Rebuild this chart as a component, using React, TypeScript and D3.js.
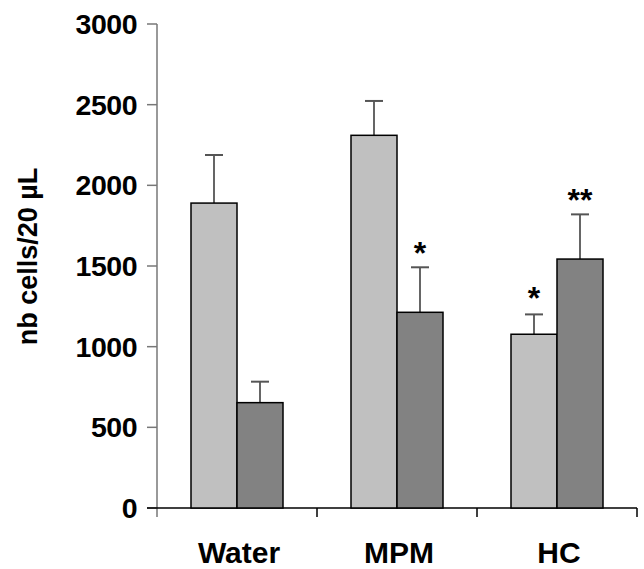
import React from "react";
import * as d3 from "d3";

const categories = ["Water", "MPM", "HC"];
const seriesA = [1890, 2310, 1077];
const seriesB = [653, 1213, 1543];
const errA = [298, 213, 123];
const errB = [130, 279, 277];
const starsA = ["", "", "*"];
const starsB = ["", "*", "**"];
const yTicks = [0, 500, 1000, 1500, 2000, 2500, 3000];

export default function App() {
  const W = 644, H = 569;
  const x0 = 157, x1 = 637, yTop = 24, yBot = 508;
  const y = d3.scaleLinear().domain([0, 3000]).range([yBot, yTop]);
  const x = d3.scaleBand().domain(categories).range([x0, x1]).paddingInner(0).paddingOuter(0);
  const bw = 46;
  const font = "'Liberation Sans', Arial, sans-serif";
  const fillA = "#c0c0c0", fillB = "#828282";
  const errColor = "#555";
  const starFs = 32;
  return (
    <svg width={W} height={H} style={{ position: "absolute", left: 0, top: 0, background: "#fff" }}>
      {/* y axis */}
      <line x1={x0} x2={x0} y1={yTop} y2={yBot + 9} stroke="#777" strokeWidth={1.5} />
      {yTicks.map((t) => (
        <g key={t}>
          <line x1={x0 - 10} x2={x0} y1={y(t)} y2={y(t)} stroke="#777" strokeWidth={1.5} />
          <text x={137} y={y(t) + 10} textAnchor="end" fontFamily={font} fontWeight="bold" fontSize={28.5} letterSpacing={-0.5}>{t}</text>
        </g>
      ))}
      {/* x axis */}
      <line x1={x0 - 10} x2={x1} y1={yBot} y2={yBot} stroke="#000" strokeWidth={1.5} />
      {categories.map((c) => (
        <line key={c} x1={(x(c) as number) + x.bandwidth()} x2={(x(c) as number) + x.bandwidth()} y1={yBot} y2={yBot + 9} stroke="#000" strokeWidth={1.5} />
      ))}
      {categories.map((c, i) => {
        const cx = (x(c) as number) + x.bandwidth() / 2;
        const ax = cx - bw, bx = cx;
        return (
          <g key={c}>
            {/* error bars */}
            <line x1={ax + bw / 2} x2={ax + bw / 2} y1={y(seriesA[i])} y2={y(seriesA[i] + errA[i])} stroke={errColor} strokeWidth={1.8} />
            <line x1={ax + bw / 2 - 9} x2={ax + bw / 2 + 9} y1={y(seriesA[i] + errA[i])} y2={y(seriesA[i] + errA[i])} stroke={errColor} strokeWidth={2} />
            <line x1={bx + bw / 2} x2={bx + bw / 2} y1={y(seriesB[i])} y2={y(seriesB[i] + errB[i])} stroke={errColor} strokeWidth={1.8} />
            <line x1={bx + bw / 2 - 9} x2={bx + bw / 2 + 9} y1={y(seriesB[i] + errB[i])} y2={y(seriesB[i] + errB[i])} stroke={errColor} strokeWidth={2} />
            <rect x={ax} y={y(seriesA[i])} width={bw} height={yBot - y(seriesA[i])} fill={fillA} stroke="#000" strokeWidth={1.5} />
            <rect x={bx} y={y(seriesB[i])} width={bw} height={yBot - y(seriesB[i])} fill={fillB} stroke="#000" strokeWidth={1.5} />
            {starsA[i] && (
              <text x={ax + bw / 2} y={y(seriesA[i] + errA[i]) - 24 + 0.58 * starFs} textAnchor="middle" fontFamily={font} fontWeight="bold" fontSize={starFs}>{starsA[i]}</text>
            )}
            {starsB[i] && (
              <text x={bx + bw / 2} y={y(seriesB[i] + errB[i]) - 22 + 0.58 * starFs} textAnchor="middle" fontFamily={font} fontWeight="bold" fontSize={starFs}>{starsB[i]}</text>
            )}
            <text x={cx + 2} y={563} textAnchor="middle" fontFamily={font} fontWeight="bold" fontSize={30}>{c}</text>
          </g>
        );
      })}
      <text transform={`translate(37,${(165 + 348) / 2}) rotate(-90)`} textAnchor="middle" fontFamily={font} fontWeight="bold" fontSize={27}>nb cells/20 µL</text>
    </svg>
  );
}
